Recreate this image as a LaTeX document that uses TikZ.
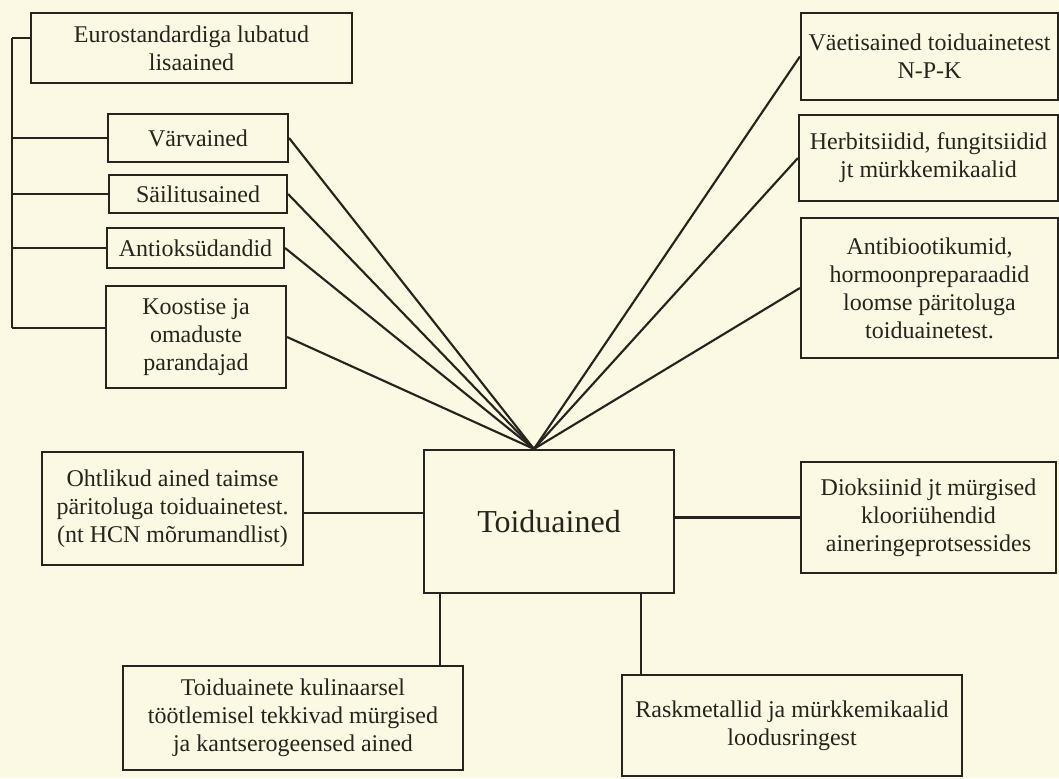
\documentclass[tikz,border=0pt]{standalone}
\usepackage{fontspec}
\setmainfont{Liberation Serif}
\usetikzlibrary{calc}
\definecolor{paper}{RGB}{251,249,228}
\definecolor{ink}{RGB}{38,36,28}
\begin{document}
\begin{tikzpicture}[x=0.75pt,y=-0.75pt,
  box/.style={draw=ink, line width=1.6pt, text=ink, align=center, inner sep=0pt,
    font=\fontsize{18}{21}\selectfont},
  sz/.style 2 args={minimum width=#1*0.75pt, minimum height=#2*0.75pt},
  link/.style={draw=ink, line width=1.6pt}]
\fill[paper] (0,0) rectangle (1059,778);
\useasboundingbox (0,0) rectangle (1059,778);

% left group
\node[box, sz={321}{70}] (eu) at (191.5,48) {Eurostandardiga lubatud\\lisaained};
\node[box, sz={180}{48}] (var) at (198,138) {Värvained};
\node[box, sz={178}{38}] (sai) at (198,194) {Säilitusained};
\node[box, sz={177}{40}] (ant) at (195.5,248) {Antioksüdandid};
\node[box, sz={180}{102}] (koo) at (196,337) {Koostise ja\\omaduste\\parandajad};

% right group
\node[box, sz={257}{87}] (vae) at (929.5,56.5) {Väetisained toiduainetest\\N-P-K};
\node[box, sz={259}{86}] (her) at (928.5,158) {Herbitsiidid, fungitsiidid\\jt mürkkemikaalid};
\node[box, sz={257}{140}] (abi) at (929.5,288) {Antibiootikumid,\\hormoonpreparaadid\\loomse päritoluga\\toiduainetest.};

% centre
\node[box, sz={250}{143}, font=\fontsize{24}{28}\selectfont] (toi) at (549,521.5) {Toiduained};
\node[box, sz={261}{113}] (oht) at (172.5,508.5) {Ohtlikud ained taimse\\päritoluga toiduainetest.\\(nt HCN mõrumandlist)};
\node[box, sz={255}{111}] (dio) at (928.5,517.5) {Dioksiinid jt mürgised\\klooriühendid\\aineringeprotsessides};
\node[box, sz={340}{104}] (kul) at (293,718) {Toiduainete kulinaarsel\\töötlemisel tekkivad mürgised\\ja kantserogeensed ained};
\node[box, sz={340}{101}] (ras) at (792,725.5) {Raskmetallid ja mürkkemikaalid\\loodusringest};

% bracket on the left
\coordinate (bt) at (12,38);
\coordinate (bb) at (12,328);
\draw[link] (bt) -- (bb);
\draw[link] (bt) -- (bt -| eu.west);
\draw[link] (var.west) -- (var.west -| bt);
\draw[link] (sai.west) -- (sai.west -| bt);
\draw[link] (ant.west) -- (ant.west -| bt);
\draw[link] (bb) -- (bb -| koo.west);

% fan into the top of the centre box
\coordinate (hub) at ($(toi.north west)+(111,0)$);
\foreach \n in {var,sai,ant,koo} \draw[link] (\n.east) -- (hub);
\foreach \n in {vae,her,abi} \draw[link] (\n.west) -- (hub);

% side and bottom connectors
\coordinate (oc) at ($(oht.east)+(0,4.5)$);
\draw[link] (oc) -- (oc -| toi.west);
\draw[link] (toi.east |- dio.west) -- (dio.west);
\coordinate (kc) at ($(toi.south west)+(17,0)$);
\draw[link] (kc) -- (kc |- kul.north);
\coordinate (rc) at ($(toi.south east)+(-34,0)$);
\draw[link] (rc) -- (rc |- ras.north);
\end{tikzpicture}
\end{document}
